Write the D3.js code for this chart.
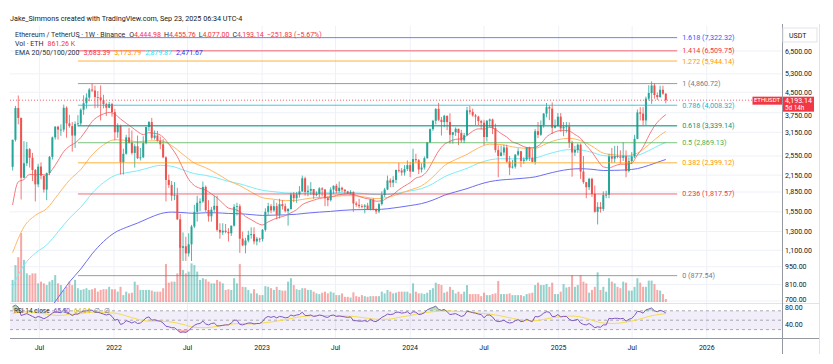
<!DOCTYPE html>
<html>
<head>
<meta charset="utf-8">
<script src="https://cdn.jsdelivr.net/npm/d3@7.9.0/dist/d3.min.js"></script>
<style>
  body { margin: 0; background: #fff; }
  svg { display: block; font-family: Roboto, "Liberation Sans", sans-serif; }
</style>
</head>
<body>
<svg id="chart" width="833" height="364"></svg>
<script>
// weekly ETH/USDT candles, Apr 26 2021 -> Sep 22 2025
const firstWeek = new Date(Date.UTC(2021, 3, 26));
const lastWeek = new Date(Date.UTC(2025, 8, 22));
const firstOpen = 2315;
const lastBar = { open: 4444.98, high: 4455.76, low: 4077.00, close: 4193.14, change: -251.83, pct: -5.67 };

const closes = [
  2945, 3910, 3580, 2100, 2390, 2710, 2510, 2250, 1980, 2320,
  2140, 1890, 2190, 2530, 3010, 3310, 3225, 3225, 3920, 3410,
  3330, 3060, 3390, 3410, 3850, 4080, 4290, 4610, 4570, 4310,
  4300, 4190, 4050, 3920, 4050, 3770, 3150, 3330, 2410, 2600,
  3010, 2870, 2620, 2780, 2500, 2520, 2860, 3300, 3450, 3000,
  3060, 2920, 2830, 2520, 2060, 1970, 1790, 1800, 1450, 1125,
  1140, 1070, 1160, 1360, 1550, 1680, 1700, 1935, 1575, 1490,
  1580, 1635, 1320, 1290, 1310, 1295, 1280, 1370, 1620, 1630,
  1220, 1150, 1200, 1260, 1270, 1190, 1220, 1215, 1320, 1550,
  1630, 1570, 1630, 1510, 1660, 1630, 1560, 1590, 1810, 1750,
  1810, 1860, 2090, 1850, 1870, 1900, 1800, 1820, 1910, 1890,
  1750, 1720, 1890, 1955, 1865, 1920, 1890, 1860, 1825, 1850,
  1670, 1650, 1630, 1620, 1640, 1590, 1730, 1580, 1555, 1660,
  1800, 1890, 2050, 2010, 2060, 2250, 2240, 2200, 2270, 2350,
  2220, 2480, 2455, 2260, 2300, 2500, 2880, 3240, 3490, 3880,
  3520, 3450, 3650, 3450, 3080, 3150, 3250, 3130, 2930, 3070,
  3830, 3780, 3660, 3620, 3480, 3430, 3020, 3490, 3530, 3270,
  2690, 2550, 2630, 2750, 2425, 2300, 2320, 2580, 2660, 2440,
  2470, 2750, 2510, 2420, 3180, 3080, 3360, 3720, 3940, 3890,
  3280, 3330, 3620, 3260, 3310, 3320, 2870, 2630, 2690, 2820,
  2220, 2020, 1930, 2080, 1820, 1550, 1620, 1590, 1800, 1805,
  2540, 2490, 2550, 2530, 2510, 2545, 2230, 2435, 2540, 2970,
  3760, 3720, 3500, 4250, 4470, 4780, 4390, 4310, 4600, 4444.97,
  4193.14
];
const highs = [
  2950, 3985, 4372, 3590, 2910, 2890, 2740, 2620, 2270, 2380,
  2410, 2130, 2200, 2550, 3030, 3330, 3340, 3380, 4030, 3970,
  3680, 3450, 3470, 3670, 3900, 4380, 4460, 4670, 4868, 4770,
  4550, 4780, 4400, 4100, 4130, 4100, 3880, 3410, 3370, 2720,
  3080, 3280, 3200, 2830, 3060, 2740, 3040, 3310, 3480, 3580,
  3200, 3190, 3030, 2960, 2540, 2160, 2040, 2020, 1920, 1520,
  1290, 1240, 1280, 1380, 1650, 1790, 1750, 2030, 1960, 1720,
  1620, 1790, 1790, 1400, 1400, 1390, 1340, 1370, 1660, 1680,
  1660, 1300, 1230, 1310, 1350, 1350, 1240, 1230, 1330, 1600,
  1680, 1660, 1720, 1680, 1740, 1720, 1670, 1600, 1840, 1850,
  1850, 1950, 2140, 2120, 1960, 2020, 1900, 1860, 1930, 1930,
  1900, 1780, 1930, 1960, 1990, 2030, 1940, 1890, 1870, 1880,
  1860, 1700, 1740, 1660, 1660, 1680, 1740, 1750, 1600, 1680,
  1860, 1920, 2140, 2090, 2130, 2260, 2400, 2290, 2350, 2450,
  2420, 2720, 2600, 2480, 2390, 2540, 2890, 3260, 3520, 3900,
  4093, 3610, 3680, 3650, 3730, 3160, 3290, 3250, 3220, 3130,
  3950, 3980, 3890, 3710, 3650, 3520, 3520, 3510, 3560, 3560,
  3400, 2800, 2800, 2820, 2820, 2550, 2460, 2590, 2730, 2670,
  2520, 2760, 2770, 2720, 3240, 3450, 3500, 3740, 4090, 4000,
  4110, 3530, 3740, 3740, 3450, 3450, 3440, 2920, 2790, 2850,
  2850, 2550, 2020, 2100, 2100, 1960, 1690, 1690, 1860, 1870,
  2600, 2740, 2790, 2790, 2680, 2880, 2680, 2520, 2640, 3080,
  3860, 3940, 3940, 4330, 4790, 4956, 4880, 4490, 4770, 4770,
  4455.76
];
const lows = [
  2240, 2900, 3380, 1730, 2090, 2330, 2300, 2040, 1700, 1930,
  2070, 1840, 1720, 2150, 2470, 2950, 2950, 3050, 3160, 3000,
  3280, 2650, 2740, 3320, 3350, 3680, 3890, 4150, 4510, 3900,
  3920, 3500, 3900, 3640, 3900, 3620, 2930, 3000, 2160, 2160,
  2580, 2850, 2580, 2300, 2480, 2450, 2500, 2830, 3180, 2950,
  2950, 2900, 2710, 2500, 1700, 1920, 1710, 1720, 1440, 880,
  1000, 1000, 1040, 1000, 1340, 1420, 1560, 1680, 1550, 1420,
  1420, 1550, 1300, 1220, 1260, 1280, 1190, 1250, 1360, 1500,
  1075, 1140, 1070, 1180, 1220, 1160, 1150, 1180, 1190, 1300,
  1510, 1530, 1550, 1450, 1460, 1580, 1540, 1370, 1580, 1690,
  1680, 1760, 1850, 1790, 1780, 1800, 1740, 1780, 1760, 1780,
  1630, 1630, 1700, 1820, 1830, 1840, 1850, 1820, 1820, 1810,
  1550, 1620, 1600, 1600, 1530, 1580, 1570, 1570, 1520, 1530,
  1640, 1770, 1880, 1930, 1930, 2000, 2200, 2140, 2140, 2230,
  2110, 2210, 2400, 2170, 2200, 2260, 2490, 2860, 3190, 3380,
  3480, 3060, 3300, 3210, 2850, 2850, 3050, 2810, 2870, 2860,
  3050, 3690, 3620, 3360, 3360, 3240, 2810, 2900, 3300, 3100,
  2630, 2110, 2540, 2560, 2400, 2150, 2280, 2280, 2550, 2310,
  2380, 2440, 2440, 2410, 2360, 2990, 3050, 3280, 3600, 3510,
  3100, 3260, 3310, 3160, 3040, 3140, 2740, 2120, 2550, 2620,
  2080, 1990, 1750, 1880, 1770, 1540, 1385, 1540, 1560, 1750,
  1750, 2400, 2400, 2500, 2380, 2440, 2110, 2200, 2370, 2500,
  2960, 3500, 3350, 3360, 4180, 4060, 4250, 4200, 4290, 4400,
  4077
];
// weekly volume, millions of ETH
const volumes = [
  6.4, 10.7, 13.0, 20.0, 12.2, 8.3, 7.8, 8.3, 8.3, 5.4,
  5.9, 5.4, 4.9, 5.9, 6.4, 7.8, 5.4, 4.9, 3.5, 4.4,
  5.9, 4.9, 6.4, 4.0, 3.5, 3.7, 4.0, 3.5, 3.7, 4.0,
  3.0, 3.5, 3.7, 3.7, 4.4, 3.7, 3.7, 3.0, 4.4, 2.0,
  3.0, 2.5, 2.7, 5.9, 4.9, 3.5, 3.5, 3.5, 3.5, 3.3,
  3.0, 3.0, 3.0, 4.0, 11.0, 5.6, 5.9, 5.9, 8.3, 16.5,
  9.3, 8.3, 8.8, 11.2, 10.7, 8.8, 6.4, 6.9, 6.6, 5.9,
  5.4, 5.4, 6.4, 5.9, 5.4, 3.5, 3.7, 3.5, 6.9, 5.4,
  11.0, 4.4, 4.3, 3.5, 2.5, 3.7, 2.5, 2.0, 2.0, 4.6,
  4.4, 4.0, 3.5, 4.4, 3.5, 3.3, 3.3, 5.9, 6.9, 4.9,
  3.7, 3.5, 4.0, 4.0, 3.5, 3.5, 3.0, 2.5, 2.3, 2.7,
  3.0, 2.5, 3.0, 2.7, 2.0, 2.0, 2.5, 1.5, 1.5, 1.3,
  2.8, 1.7, 1.5, 2.0, 1.7, 1.5, 1.7, 1.7, 1.7, 1.7,
  3.0, 2.5, 3.5, 3.0, 2.5, 2.7, 3.0, 3.0, 3.0, 3.0,
  2.5, 5.4, 3.0, 2.5, 2.5, 2.3, 2.7, 3.5, 4.0, 5.6,
  5.2, 4.9, 2.7, 3.0, 4.4, 3.5, 2.5, 3.0, 2.3, 3.0,
  4.9, 2.3, 2.3, 2.3, 2.3, 1.7, 2.7, 2.0, 2.0, 2.3,
  2.5, 6.1, 2.3, 2.3, 2.3, 2.5, 2.0, 2.0, 2.0, 2.0,
  1.7, 2.3, 2.5, 2.7, 4.9, 5.6, 4.9, 4.9, 5.2, 4.4,
  5.6, 2.3, 2.3, 3.0, 5.2, 4.2, 4.4, 7.8, 4.4, 4.9,
  7.8, 5.9, 5.4, 2.7, 3.5, 4.4, 8.6, 3.5, 4.4, 3.0,
  6.9, 5.9, 5.4, 4.4, 4.0, 5.9, 5.6, 3.3, 3.3, 4.4,
  6.9, 5.6, 4.4, 4.4, 6.2, 6.2, 5.2, 3.5, 3.3, 2.3,
  0.86126
];
// EMA 20 read every 2nd week, EMA 50/100/200 every 4th week (+ last week)
const ema20 = [
  1647, 2026, 2067, 2164, 2154, 2167, 2146, 2262, 2444, 2651,
  2781, 2863, 3004, 3219, 3467, 3619, 3709, 3760, 3703, 3547,
  3414, 3291, 3171, 3085, 3138, 3119, 3074, 2930, 2739, 2536,
  2282, 2071, 1960, 1911, 1881, 1819, 1755, 1673, 1603, 1585,
  1554, 1486, 1446, 1403, 1379, 1417, 1451, 1476, 1498, 1536,
  1580, 1653, 1691, 1719, 1746, 1759, 1768, 1794, 1814, 1819,
  1808, 1777, 1750, 1735, 1704, 1710, 1758, 1808, 1887, 1951,
  2011, 2094, 2128, 2231, 2438, 2665, 2827, 2904, 2958, 2970,
  3061, 3180, 3247, 3241, 3290, 3231, 3115, 3018, 2890, 2841,
  2771, 2744, 2757, 2842, 3023, 3123, 3188, 3206, 3184, 3089,
  2983, 2800, 2644, 2452, 2316, 2293, 2335, 2369, 2371, 2393,
  2573, 2760, 3051, 3328, 3533, 3683.39
];
const ema50 = [
  1076, 1355, 1502, 1595, 1808, 2054, 2259, 2574, 2815, 2947,
  2930, 2895, 2918, 2922, 2797, 2586, 2395, 2296, 2178, 2047,
  1959, 1849, 1758, 1734, 1712, 1717, 1746, 1763, 1770, 1789,
  1790, 1768, 1745, 1762, 1818, 1884, 1955, 2115, 2338, 2470,
  2586, 2740, 2833, 2824, 2767, 2733, 2731, 2850, 2950, 2984,
  2925, 2783, 2615, 2576, 2557, 2615, 2819, 3070, 3173.79
];
const ema100 = [
  795, 964, 1072, 1154, 1297, 1464, 1615, 1828, 2011, 2143,
  2196, 2234, 2295, 2346, 2326, 2253, 2179, 2144, 2095, 2033,
  1989, 1930, 1877, 1855, 1835, 1828, 1835, 1837, 1835, 1841,
  1838, 1822, 1806, 1809, 1834, 1867, 1906, 1992, 2118, 2204,
  2284, 2388, 2463, 2488, 2485, 2489, 2506, 2584, 2657, 2698,
  2690, 2634, 2558, 2542, 2535, 2565, 2674, 2816, 2879.87
];
const ema200 = [
  390, 492, 565, 627, 721, 829, 931, 1066, 1189, 1288,
  1349, 1402, 1466, 1524, 1546, 1539, 1529, 1537, 1536, 1527,
  1524, 1512, 1501, 1505, 1508, 1517, 1533, 1546, 1556, 1570,
  1579, 1581, 1582, 1593, 1614, 1639, 1668, 1721, 1796, 1852,
  1906, 1974, 2029, 2059, 2074, 2092, 2116, 2172, 2225, 2263,
  2276, 2264, 2240, 2244, 2252, 2278, 2345, 2430, 2471.67
];
const rsi = [
  79, 82, 78, 60, 62, 64, 61, 58, 55, 58,
  56, 53, 56, 60, 65, 68, 67, 66, 72, 65,
  64, 60, 63, 63, 67, 69, 70, 72, 71, 67,
  67, 65, 63, 61, 63, 58, 50, 52, 41, 43,
  49, 47, 44, 47, 43, 44, 49, 55, 57, 50,
  51, 49, 48, 44, 37, 36, 34, 34, 29, 24,
  25, 24, 28, 34, 39, 42, 43, 48, 42, 40,
  43, 44, 38, 38, 39, 40, 40, 44, 50, 50,
  41, 40, 42, 44, 44, 42, 43, 43, 47, 55,
  58, 56, 58, 55, 58, 57, 55, 56, 61, 59,
  61, 62, 67, 60, 60, 61, 58, 59, 61, 60,
  57, 56, 60, 61, 58, 59, 58, 57, 56, 57,
  49, 49, 48, 48, 49, 47, 52, 48, 47, 51,
  56, 59, 63, 62, 63, 67, 67, 65, 66, 68,
  63, 68, 67, 62, 63, 66, 72, 75, 77, 80,
  73, 71, 73, 68, 62, 63, 64, 61, 58, 60,
  69, 68, 66, 65, 63, 62, 55, 61, 61, 57,
  49, 47, 48, 50, 46, 44, 45, 49, 51, 47,
  48, 52, 49, 47, 58, 57, 60, 65, 68, 67,
  58, 58, 62, 57, 58, 58, 52, 49, 50, 52,
  44, 41, 40, 43, 39, 34, 36, 35, 40, 40,
  54, 53, 54, 54, 53, 54, 48, 52, 54, 60,
  69, 68, 65, 72, 74, 76, 70, 68, 71, 69,
  65.5
];
const rsiMA = [
  64, 68, 66, 63, 60, 62, 64, 67, 66, 65,
  59, 52, 48, 48, 46, 41, 35, 34, 37, 41,
  43, 42, 44, 47, 51, 56, 59, 60, 60, 59,
  58, 55, 52, 52, 56, 60, 65, 68, 70, 69,
  68, 65, 63, 59, 54, 50, 49, 53, 57, 59,
  57, 50, 44, 43, 46, 51, 58, 62.5, 64.04
];

const priceTicks = [6500, 5300, 4500, 3750, 3150, 2550, 2150, 1850, 1550, 1300, 1100, 950, 810, 700];
const rsiTicks = [80, 40];
const timeTicks = [
  Date.UTC(2021, 6, 1), Date.UTC(2022, 0, 1), Date.UTC(2022, 6, 1), Date.UTC(2023, 0, 1),
  Date.UTC(2023, 6, 1), Date.UTC(2024, 0, 1), Date.UTC(2024, 6, 1), Date.UTC(2025, 0, 1),
  Date.UTC(2025, 6, 1), Date.UTC(2026, 0, 1)
];
const timeLabels = ['Jul', '2022', 'Jul', '2023', 'Jul', '2024', 'Jul', '2025', 'Jul', '2026'];

const fibRatios = ['1.618', '1.414', '1.272', '1', '0.786', '0.618', '0.5', '0.382', '0.236', '0'];
const fibPrices = [7322.32, 6509.75, 5944.14, 4860.72, 4008.32, 3339.14, 2869.13, 2399.12, 1817.57, 877.54];
const fibColors = ['#2962ff', '#f23645', '#ff9800', '#787b86', '#00bcd4', '#089981', '#4caf50', '#ff9800', '#f23645', '#787b86'];
const fibFrom = new Date(Date.UTC(2021, 9, 4));
const fibTo = new Date(Date.UTC(2025, 9, 20));

// ---------------------------------------------------------------
const svg = d3.select('#chart');
const L = 10, R = 782, T = 26, priceBottom = 303, rsiTop = 304, rsiBottom = 338, axisRight = 819, B = 354;
const upColor = '#26a69a', downColor = '#ef5350';
const fmt = d3.format(',.2f');
const textDark = '#131722';

const weeks = d3.utcMonday.range(firstWeek, d3.utcDay.offset(lastWeek, 1));
const x = d3.scaleUtc().domain([firstWeek, lastWeek]).range([12.6, 665.8]);
const y = d3.scaleLog().domain([700, 6500]).range([301, 51]);
const yVol = d3.scaleLinear().domain([0, 20]).range([302, 233]);
const yRsi = d3.scaleLinear().domain([30, 70]).range([329.6, 310.8]);

const opens = closes.map((c, i) => i === 0 ? firstOpen : (i === closes.length - 1 ? lastBar.open : closes[i - 1]));
const step2 = d3.range(0, weeks.length, 2);
const step4 = d3.range(0, weeks.length - 2, 4).concat([weeks.length - 1]);

const defs = svg.append('defs');
function clip(id, x0, y0, x1, y1) {
  defs.append('clipPath').attr('id', id).append('rect')
    .attr('x', x0).attr('y', y0).attr('width', x1 - x0).attr('height', y1 - y0);
}
clip('clipPrice', L, T, R, priceBottom);
clip('clipRsi', L, rsiTop, R, rsiBottom);
clip('clipOver', L, rsiTop, R, yRsi(70));
clip('clipUnder', L, yRsi(30), R, rsiBottom);
clip('clipAxis', R, T, axisRight, priceBottom);

// grid
const grid = svg.append('g');
timeTicks.forEach(t => {
  grid.append('line').attr('x1', x(t)).attr('x2', x(t)).attr('y1', T).attr('y2', rsiBottom)
    .attr('stroke', '#eef1f8').attr('stroke-width', 1);
});
priceTicks.forEach(p => {
  grid.append('line').attr('x1', L).attr('x2', R).attr('y1', y(p)).attr('y2', y(p))
    .attr('stroke', '#eef1f8').attr('stroke-width', 1).attr('clip-path', 'url(#clipPrice)');
});

// volume
const volG = svg.append('g').attr('clip-path', 'url(#clipPrice)');
weeks.forEach((d, i) => {
  const up = closes[i] >= opens[i];
  volG.append('rect')
    .attr('x', x(d) - 1).attr('width', 2)
    .attr('y', yVol(volumes[i])).attr('height', yVol(0) - yVol(volumes[i]))
    .attr('fill', up ? 'rgba(38,166,154,0.5)' : 'rgba(239,83,80,0.5)');
});

// EMAs
const emaG = svg.append('g').attr('clip-path', 'url(#clipPrice)').attr('fill', 'none');
function emaLine(values, idx, color) {
  const line = d3.line().curve(d3.curveMonotoneX)
    .x((v, k) => x(weeks[idx[k]])).y(v => y(v));
  emaG.append('path').attr('d', line(values)).attr('stroke', color).attr('stroke-width', 1);
}
emaLine(ema200, step4, '#6d6df2');
emaLine(ema100, step4, '#7cecf7');
emaLine(ema50, step4, '#ffb866');
emaLine(ema20, step2, '#f47a80');

// candles
const candleG = svg.append('g').attr('clip-path', 'url(#clipPrice)');
weeks.forEach((d, i) => {
  const o = opens[i], c = closes[i];
  const col = c >= o ? upColor : downColor;
  const cx = x(d);
  candleG.append('line').attr('x1', cx).attr('x2', cx)
    .attr('y1', y(highs[i])).attr('y2', y(lows[i])).attr('stroke', col).attr('stroke-width', 0.8);
  const yt = y(Math.max(o, c)), yb = y(Math.min(o, c));
  candleG.append('rect').attr('x', cx - 1).attr('width', 2)
    .attr('y', yt).attr('height', Math.max(0.8, yb - yt)).attr('fill', col);
});

// fibonacci retracement
const fibG = svg.append('g');
fibPrices.forEach((p, k) => {
  const fy = y(p);
  fibG.append('line').attr('x1', x(fibFrom)).attr('x2', x(fibTo)).attr('y1', fy).attr('y2', fy)
    .attr('stroke', fibColors[k]).attr('stroke-opacity', 0.75)
    .attr('stroke-width', fibRatios[k] === '0.618' ? 1.6 : 1);
  fibG.append('text').attr('x', x(fibTo) + 5).attr('y', fy + 2.5)
    .attr('font-size', 7.2).attr('fill', fibColors[k])
    .text(`${fibRatios[k]} (${fmt(p)})`);
});

// last price line
svg.append('line').attr('x1', L).attr('x2', R).attr('y1', y(lastBar.close)).attr('y2', y(lastBar.close))
  .attr('stroke', '#f23645').attr('stroke-width', 0.8).attr('stroke-dasharray', '1,2');

// pane borders
svg.append('line').attr('x1', L).attr('x2', axisRight).attr('y1', priceBottom + 0.5).attr('y2', priceBottom + 0.5)
  .attr('stroke', '#e0e3eb');
svg.append('line').attr('x1', L).attr('x2', axisRight).attr('y1', rsiBottom + 0.5).attr('y2', rsiBottom + 0.5)
  .attr('stroke', '#9598a1');
svg.append('line').attr('x1', R + 0.5).attr('x2', R + 0.5).attr('y1', T - 2).attr('y2', B)
  .attr('stroke', '#9598a1');
svg.append('line').attr('x1', axisRight + 0.5).attr('x2', axisRight + 0.5).attr('y1', T - 2).attr('y2', B)
  .attr('stroke', '#e0e3eb');

// RSI pane
const rsiG = svg.append('g').attr('clip-path', 'url(#clipRsi)');
rsiG.append('rect').attr('x', L).attr('width', R - L)
  .attr('y', yRsi(70)).attr('height', yRsi(30) - yRsi(70)).attr('fill', 'rgba(126,87,194,0.1)');
[70, 50, 30].forEach(v => {
  rsiG.append('line').attr('x1', L).attr('x2', R).attr('y1', yRsi(v)).attr('y2', yRsi(v))
    .attr('stroke', '#9598a1').attr('stroke-width', 0.8).attr('stroke-dasharray', '3,3');
});
const rsiX = (v, i) => x(weeks[i]);
svg.append('path').attr('clip-path', 'url(#clipOver)')
  .attr('d', d3.area().x(rsiX).y0(yRsi(70)).y1(v => yRsi(Math.max(v, 70)))(rsi))
  .attr('fill', 'rgba(76,175,80,0.4)');
svg.append('path').attr('clip-path', 'url(#clipUnder)')
  .attr('d', d3.area().x(rsiX).y0(yRsi(30)).y1(v => yRsi(Math.min(v, 30)))(rsi))
  .attr('fill', 'rgba(242,54,69,0.35)');
rsiG.append('path').attr('d', d3.line().curve(d3.curveMonotoneX).x((v, k) => x(weeks[step4[k]])).y(yRsi)(rsiMA))
  .attr('fill', 'none').attr('stroke', '#f5dc4d').attr('stroke-width', 1);
rsiG.append('path').attr('d', d3.line().x(rsiX).y(yRsi)(rsi))
  .attr('fill', 'none').attr('stroke', '#7e57c2').attr('stroke-width', 1);

// price axis (labels are pushed clear of the price tag and of the RSI pane)
const py = y(lastBar.close);
const tagTop = py - 3.5, tagBottom = py + 11.5;
const axisG = svg.append('g').attr('clip-path', 'url(#clipAxis)');
priceTicks.forEach(p => {
  let ly = y(p);
  if (ly > tagTop - 3.5 && ly < tagBottom + 3.5) ly = ly < py ? tagTop - 3.6 : tagBottom + 3.6;
  ly = Math.min(ly, priceBottom - 3.6);
  axisG.append('text').attr('x', R + 3).attr('y', ly + 2.5)
    .attr('font-size', 7).attr('fill', textDark).text(fmt(p));
});
rsiTicks.forEach(v => {
  svg.append('text').attr('x', R + 3).attr('y', Math.max(yRsi(v), rsiTop + 3.6) + 2.5)
    .attr('font-size', 7).attr('fill', textDark).text(fmt(v));
});
svg.append('rect').attr('x', R + 1).attr('y', 28).attr('width', 34).attr('height', 14)
  .attr('fill', '#fff').attr('stroke', '#e0e3eb');
svg.append('text').attr('x', R + 7).attr('y', 37.5).attr('font-size', 7).attr('fill', textDark).text('USDT');

// last price tag
svg.append('rect').attr('x', 752.5).attr('y', tagTop).attr('width', 29.5).attr('height', 8).attr('fill', '#f23645');
svg.append('text').attr('x', 767).attr('y', py + 2.2).attr('text-anchor', 'middle')
  .attr('font-size', 6).attr('fill', '#fff').text('ETHUSDT');
svg.append('rect').attr('x', R + 1).attr('y', tagTop).attr('width', 31).attr('height', tagBottom - tagTop).attr('fill', '#f23645');
svg.append('text').attr('x', R + 3).attr('y', py + 3).attr('font-size', 7).attr('fill', '#fff').text(fmt(lastBar.close));
svg.append('text').attr('x', R + 3).attr('y', py + 9.8).attr('font-size', 6.3).attr('fill', '#fff').text('5d 14h');

// time axis
timeTicks.forEach((t, k) => {
  svg.append('text').attr('x', x(t)).attr('y', 349.5).attr('text-anchor', 'middle')
    .attr('font-size', 7).attr('fill', textDark).text(timeLabels[k]);
});

// header + legends
svg.append('text').attr('x', 10).attr('y', 20.5).attr('font-size', 7.2).attr('fill', textDark)
  .text('Jake_Simmons created with TradingView.com, Sep 23, 2025 06:34 UTC-4');

const red = '#f23645';
const l1 = svg.append('text').attr('x', 15).attr('y', 36.5).attr('font-size', 7).attr('fill', '#2a2e39');
l1.append('tspan').text('Ethereum / TetherUS · 1W · Binance');
[['O', lastBar.open], ['H', lastBar.high], ['L', lastBar.low], ['C', lastBar.close]].forEach(([k, v], j) => {
  l1.append('tspan').attr('dx', j === 0 ? 4 : 3).text(k);
  l1.append('tspan').attr('fill', red).text(fmt(v));
});
l1.append('tspan').attr('dx', 3).attr('fill', red)
  .text(`${fmt(lastBar.change).replace('-', '\u2212')} (${fmt(lastBar.pct).replace('-', '\u2212')}%)`);

const l2 = svg.append('text').attr('x', 15).attr('y', 45.5).attr('font-size', 7).attr('fill', '#2a2e39');
l2.append('tspan').text('Vol · ETH');
l2.append('tspan').attr('dx', 4).attr('fill', red).text(`${fmt(volumes[volumes.length - 1] * 1000)} K`);

const l3 = svg.append('text').attr('x', 15).attr('y', 54.5).attr('font-size', 7).attr('fill', '#2a2e39');
l3.append('tspan').text('EMA 20/50/100/200');
[[ema20, red], [ema50, '#ff9800'], [ema100, '#2ee6f0'], [ema200, '#3030f0']].forEach(([arr, c]) => {
  l3.append('tspan').attr('dx', 4).attr('fill', c).text(fmt(arr[arr.length - 1]));
});

// RSI legend: RSI value, RSI-based MA, empty band values
const l4 = svg.append('text').attr('x', 14).attr('y', 313).attr('font-size', 6.5).attr('fill', '#2a2e39');
l4.append('tspan').text('RSI 14 close');
l4.append('tspan').attr('dx', 4).attr('fill', '#7e57c2').text(fmt(rsi[rsi.length - 1]));
l4.append('tspan').attr('dx', 4).attr('fill', '#d4b800').text(fmt(rsiMA[rsiMA.length - 1]));
l4.append('tspan').attr('dx', 4).attr('fill', '#787b86').text('\u2205');
l4.append('tspan').attr('dx', 4).attr('fill', '#787b86').text('\u2205');
</script>
</body>
</html>
